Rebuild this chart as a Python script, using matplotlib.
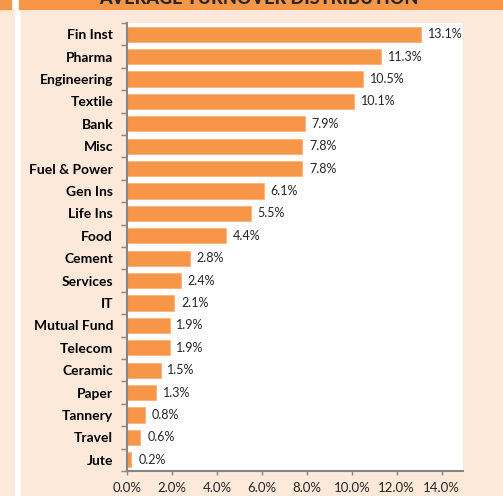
import numpy as np
import matplotlib.pyplot as plt
from matplotlib.patches import Rectangle

sectors = ['Fin Inst', 'Pharma', 'Engineering', 'Textile', 'Bank', 'Misc',
           'Fuel & Power', 'Gen Ins', 'Life Ins', 'Food', 'Cement', 'Services',
           'IT', 'Mutual Fund', 'Telecom', 'Ceramic', 'Paper', 'Tannery',
           'Travel', 'Jute']
share = [13.1, 11.3, 10.5, 10.1, 7.9, 7.8, 7.8, 6.1, 5.5, 4.4, 2.8, 2.4,
         2.1, 1.9, 1.9, 1.5, 1.3, 0.8, 0.6, 0.2]
xticks = [0, 2, 4, 6, 8, 10, 12, 14]

orange = '#F79646'
peach = '#FDE9D9'
plt.rcParams['font.family'] = ['Lato', 'DejaVu Sans']

W, H = 503, 496
fig = plt.figure(figsize=(W / 100, H / 100), dpi=100)
fig.patch.set_facecolor('white')

def box(x0, y0, x1, y1, c):
    # pixel coords from top-left
    fig.patches.append(Rectangle((x0 / W, 1 - y1 / H), (x1 - x0) / W, (y1 - y0) / H,
                                 transform=fig.transFigure, color=c, zorder=-10))

box(0, 9, 14, 496, peach)
box(21, 11, 503, 496, peach)
box(0, 0, 11, 9, orange)
box(19, 0, 503, 9, orange)
fig.text(259 / W, 1 - 3.5 / H, 'AVERAGE TURNOVER DISTRIBUTION', ha='center', va='baseline',
         fontsize=13, fontweight='black', color='#262626')

ax = fig.add_axes([127 / W, 25 / H, (463 - 127) / W, (471 - 23) / H])
ax.set_zorder(2)
ax.set_facecolor('white')
y = np.arange(len(sectors))
ax.barh(y, share, height=0.68, color=orange, edgecolor='#FAB27E', linewidth=0.6)
for yi, v in zip(y, share):
    ax.text(v + 0.3, yi, f'{v:.1f}%', va='center', ha='left', fontsize=9, color='#262626')

ax.set_ylim(len(sectors) - 0.5, -0.5)
ax.set_xlim(0, 14.95)
ax.set_yticks(y)
ax.set_yticklabels(sectors, fontsize=10, fontweight='bold', color='black')
ax.set_yticks(np.arange(-0.5, len(sectors)), minor=True)
ax.tick_params(axis='y', which='major', length=0, pad=10)
ax.tick_params(axis='y', which='minor', length=4, color='#868686', width=1)
ax.set_xticks(xticks)
ax.set_xticklabels([f'{t:.1f}%' for t in xticks], fontsize=9.5, color='#262626')
ax.tick_params(axis='x', length=3, color='#868686', width=1, pad=5)
for s in ['top', 'right']:
    ax.spines[s].set_visible(False)
for s in ['left', 'bottom']:
    ax.spines[s].set_color('#868686')
    ax.spines[s].set_linewidth(1.5)

fig.savefig('out.png', dpi=100)
